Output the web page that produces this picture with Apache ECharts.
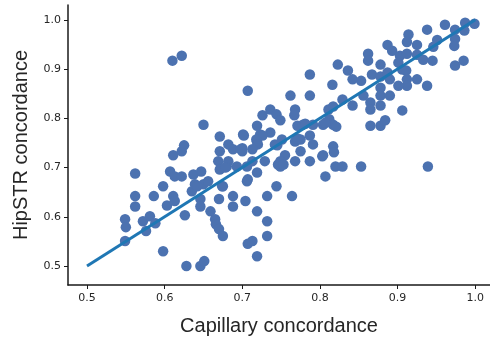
<!DOCTYPE html>
<html>
<head>
<meta charset="utf-8">
<script src="https://cdn.jsdelivr.net/npm/echarts@6/dist/echarts.min.js"></script>
<style>
  html, body { margin: 0; padding: 0; background: #fff; }
  #chart { width: 490px; height: 341px; }
</style>
</head>
<body>
<div id="chart"></div>
<script>
// capillary (x) vs HipSTR (y) concordance
const capillary = [
  0.549, 0.550, 0.549, 0.562, 0.562, 0.562, 0.572, 0.576, 0.581, 0.588,
  0.586, 0.598, 0.598, 0.603, 0.611, 0.613, 0.607, 0.613, 0.622, 0.611,
  0.622, 0.625, 0.626, 0.628, 0.646, 0.651, 0.635, 0.637, 0.639, 0.647,
  0.646, 0.646, 0.650, 0.656, 0.659, 0.665, 0.666, 0.670, 0.675, 0.670,
  0.675, 0.671, 0.671, 0.669, 0.671, 0.680, 0.682, 0.682, 0.688, 0.688,
  0.688, 0.693, 0.700, 0.701, 0.704, 0.706, 0.706, 0.707, 0.713, 0.719,
  0.719, 0.713, 0.719, 0.719, 0.723, 0.729, 0.732, 0.732, 0.732, 0.736,
  0.742, 0.744, 0.746, 0.642, 0.707, 0.678, 0.674, 0.610, 0.622, 0.707,
  0.650, 0.702, 0.719, 0.726, 0.736, 0.744, 0.726, 0.718, 0.700, 0.745,
  0.720, 0.698, 0.713, 0.749, 0.751, 0.762, 0.787, 0.787, 0.816, 0.829,
  0.842, 0.811, 0.817, 0.812, 0.817, 0.821, 0.768, 0.767, 0.771, 0.778,
  0.791, 0.804, 0.787, 0.775, 0.768, 0.791, 0.817, 0.775, 0.781, 0.771,
  0.807, 0.803, 0.755, 0.749, 0.749, 0.768, 0.787, 0.804, 0.818, 0.820,
  0.829, 0.853, 0.939, 0.807, 0.764, 0.753,
  0.999, 0.987, 0.986, 0.961, 0.974, 0.974, 0.973, 0.938, 0.951, 0.946,
  0.914, 0.912, 0.925, 0.887, 0.893, 0.862, 0.862, 0.878, 0.903, 0.912,
  0.901, 0.906, 0.925, 0.933, 0.945, 0.974, 0.985, 0.823, 0.836, 0.842,
  0.853, 0.867, 0.878, 0.887, 0.890, 0.911, 0.912, 0.925, 0.912, 0.901,
  0.938, 0.878, 0.856, 0.878, 0.890, 0.865, 0.865, 0.878, 0.906, 0.865,
  0.878, 0.884
];
const hipstr = [
  0.595, 0.579, 0.551, 0.688, 0.642, 0.621, 0.591, 0.571, 0.601, 0.587,
  0.642, 0.662, 0.530, 0.623, 0.642, 0.632, 0.692, 0.682, 0.682, 0.725,
  0.733, 0.745, 0.603, 0.500, 0.500, 0.510, 0.652, 0.686, 0.666, 0.692,
  0.636, 0.621, 0.666, 0.672, 0.611, 0.595, 0.585, 0.575, 0.561, 0.636,
  0.662, 0.763, 0.733, 0.713, 0.696, 0.702, 0.747, 0.713, 0.737, 0.642,
  0.621, 0.702, 0.733, 0.767, 0.632, 0.702, 0.672, 0.545, 0.551, 0.520,
  0.611, 0.713, 0.753, 0.690, 0.767, 0.713, 0.642, 0.591, 0.561, 0.771,
  0.747, 0.662, 0.706, 0.662, 0.676, 0.700, 0.662, 0.917, 0.927, 0.856,
  0.787, 0.765, 0.785, 0.806, 0.818, 0.808, 0.765, 0.757, 0.739, 0.745,
  0.747, 0.737, 0.737, 0.796, 0.757, 0.846, 0.846, 0.889, 0.868, 0.838,
  0.826, 0.818, 0.824, 0.798, 0.787, 0.783, 0.818, 0.806, 0.785, 0.787,
  0.787, 0.787, 0.765, 0.757, 0.753, 0.747, 0.743, 0.733, 0.789, 0.759,
  0.791, 0.723, 0.725, 0.713, 0.702, 0.713, 0.713, 0.725, 0.731, 0.702,
  0.702, 0.702, 0.702, 0.682, 0.642, 0.706,
  0.992, 0.994, 0.978, 0.990, 0.980, 0.961, 0.947, 0.980, 0.959, 0.945,
  0.970, 0.955, 0.949, 0.949, 0.937, 0.931, 0.917, 0.909, 0.927, 0.931,
  0.913, 0.899, 0.929, 0.919, 0.917, 0.907, 0.917, 0.909, 0.897, 0.879,
  0.876, 0.889, 0.885, 0.893, 0.879, 0.897, 0.879, 0.879, 0.866, 0.866,
  0.866, 0.862, 0.846, 0.846, 0.846, 0.832, 0.818, 0.826, 0.816, 0.785,
  0.785, 0.796
];
// fitted line end points
const fitX = [0.5, 1.0];
const fitY = [0.5, 1.0];
const tickVals = [0.5, 0.6, 0.7, 0.8, 0.9, 1.0];

const points = capillary.map((x, i) => [x, hipstr[i]]);
const fit = fitX.map((x, i) => [x, fitY[i]]);

const chart = echarts.init(document.getElementById('chart'), null, { renderer: 'canvas' });

const axisCommon = {
  type: 'value',
  axisLine: { show: true, lineStyle: { color: '#1a1a1a', width: 1.5 } },
  axisTick: { show: true, length: 4, lineStyle: { color: '#1a1a1a', width: 1 }, customValues: tickVals },
  axisLabel: {
    color: '#262626', fontSize: 11, fontFamily: 'DejaVu Sans',
    customValues: tickVals,
    formatter: v => v.toFixed(1)
  },
  splitLine: { show: false },
  nameLocation: 'middle',
  nameTextStyle: { color: '#262626', fontSize: 20, fontFamily: 'Liberation Sans' }
};

chart.setOption({
  animation: false,
  backgroundColor: '#fff',
  grid: { left: 68, right: 0, top: 5, bottom: 55 },
  xAxis: Object.assign({}, axisCommon, {
    min: 0.4755, max: 1.019,
    name: 'Capillary concordance', nameGap: 31,
    axisLabel: Object.assign({}, axisCommon.axisLabel, { margin: 8 })
  }),
  yAxis: Object.assign({}, axisCommon, {
    min: 0.4615, max: 1.03,
    name: 'HipSTR concordance', nameGap: 37,
    axisLabel: Object.assign({}, axisCommon.axisLabel, { margin: 7 })
  }),
  series: [
    {
      type: 'scatter',
      data: points,
      symbolSize: 10.5,
      itemStyle: { color: '#4c72b0', opacity: 1 }
    },
    {
      type: 'line',
      data: fit,
      symbol: 'none',
      lineStyle: { color: '#1f77b4', width: 3 },
      z: 3
    }
  ]
});
</script>
</body>
</html>
